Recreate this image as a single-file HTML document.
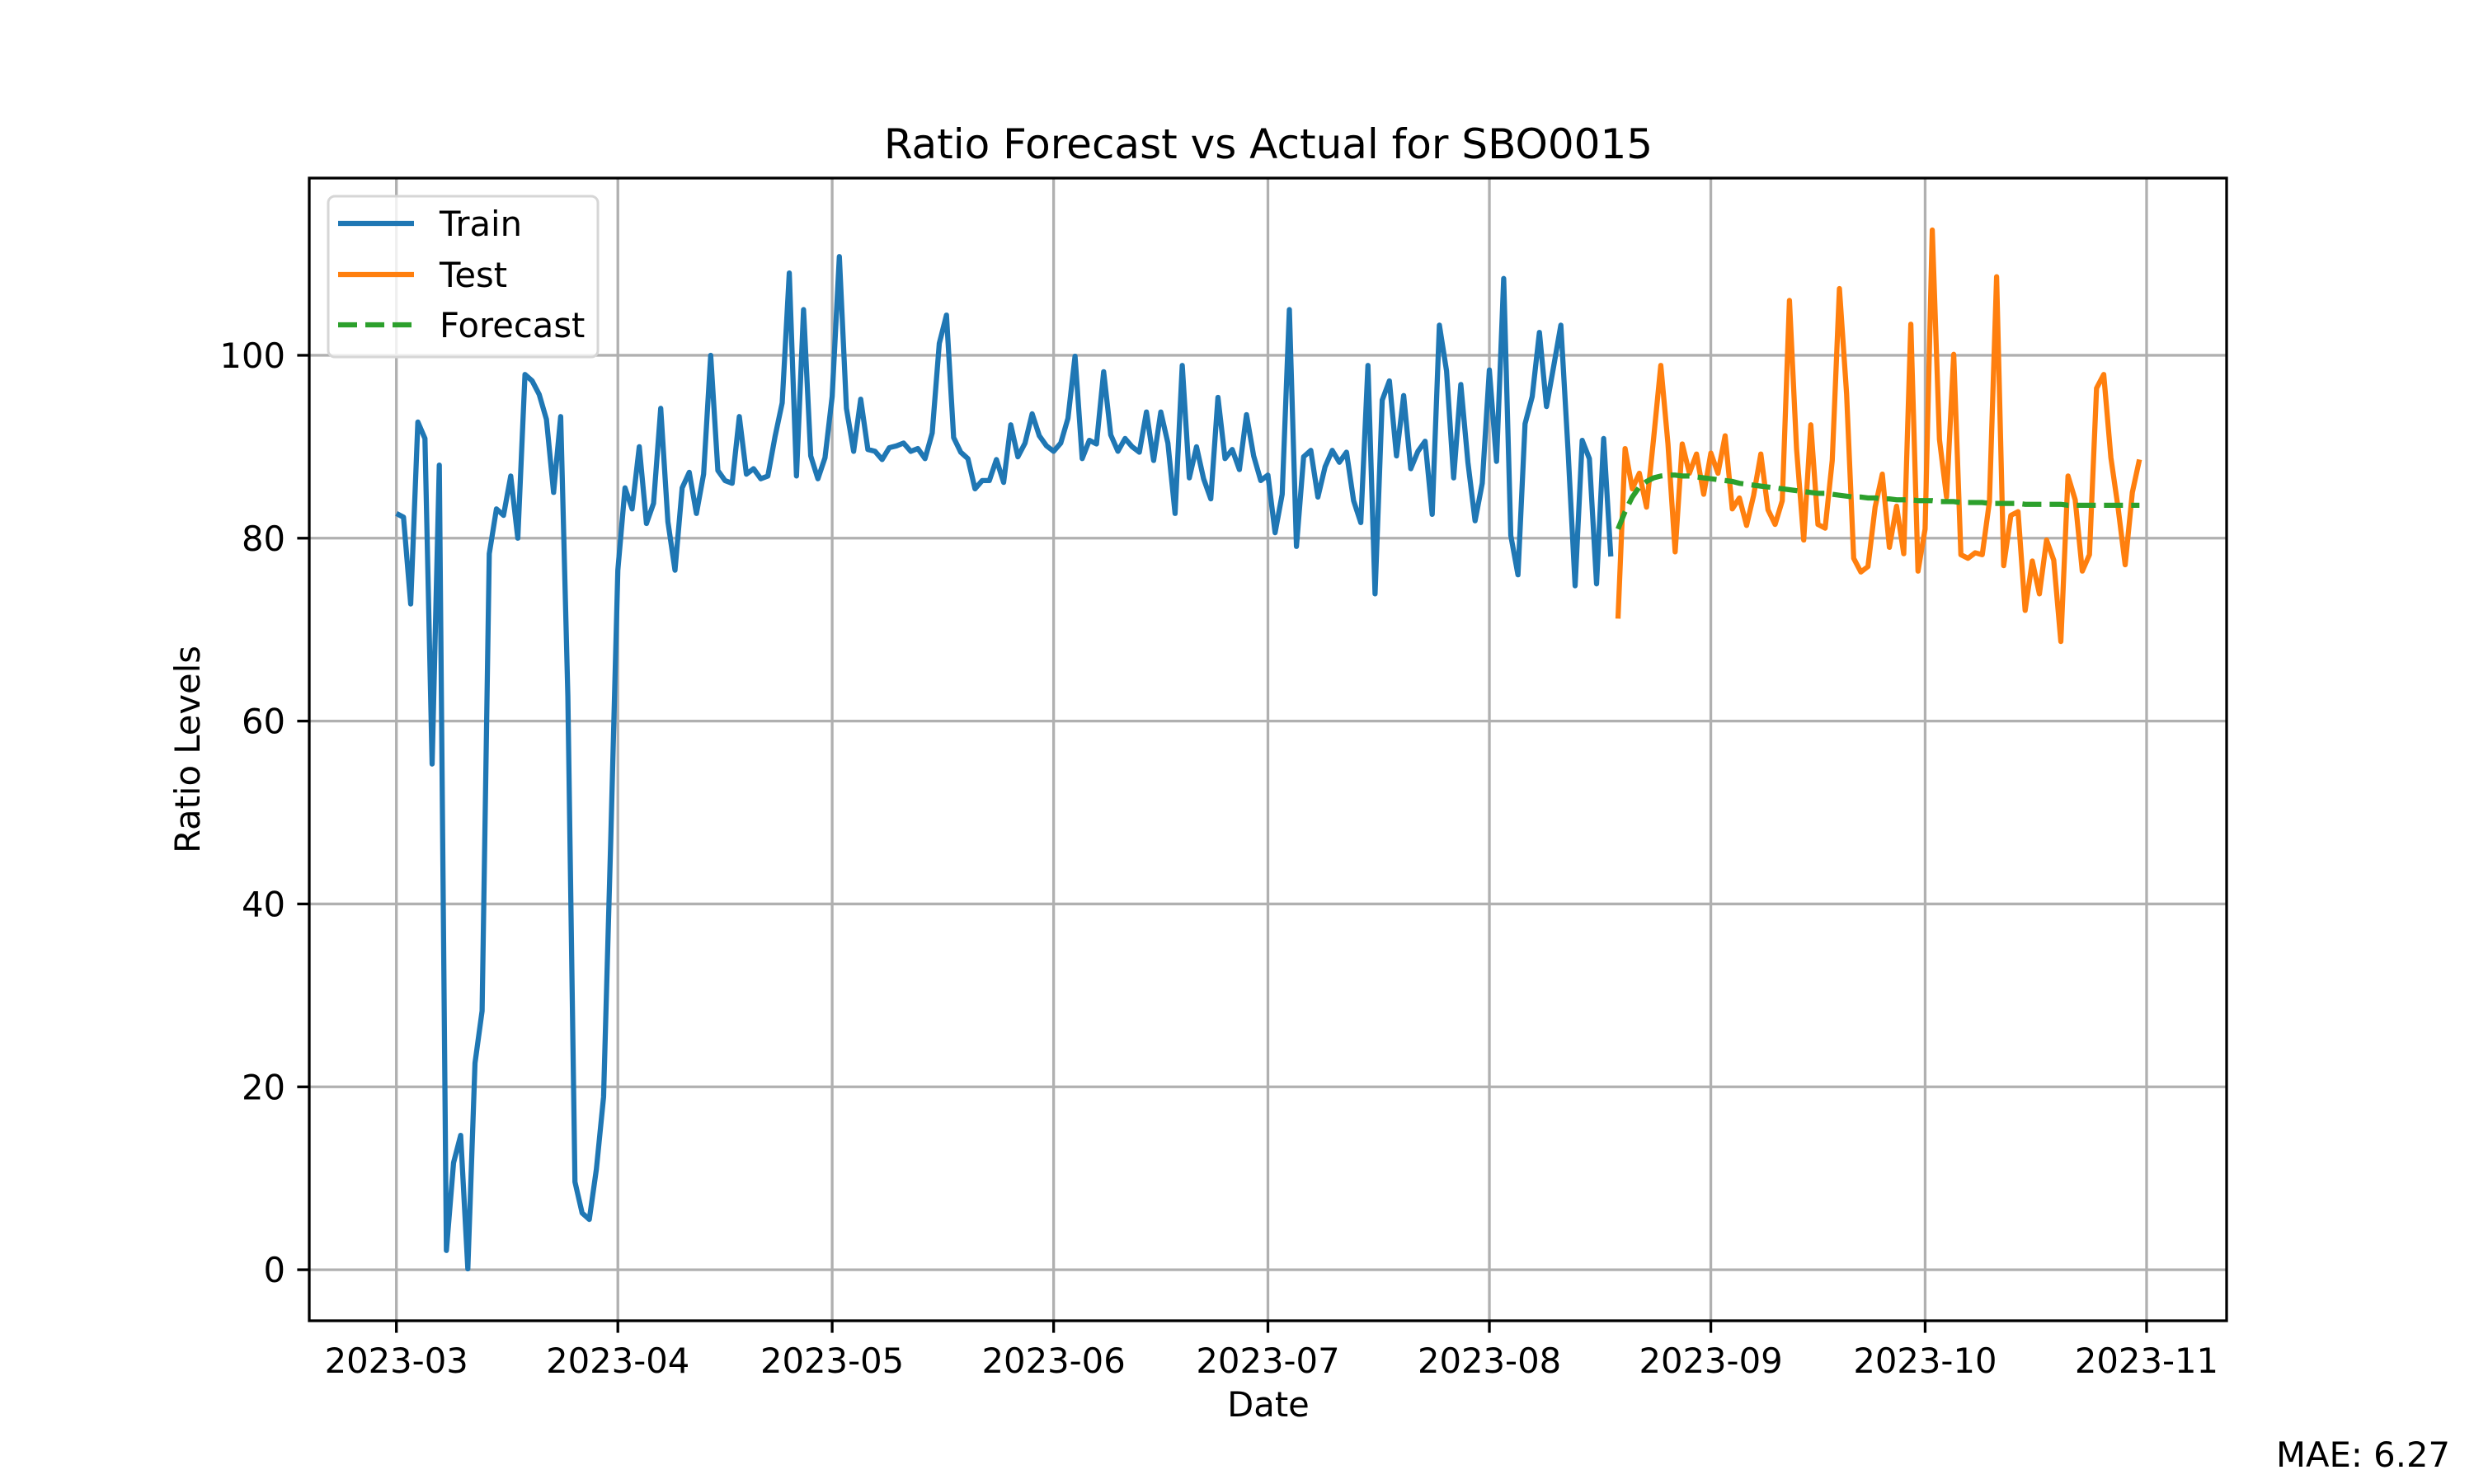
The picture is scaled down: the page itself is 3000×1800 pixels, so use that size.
<!DOCTYPE html>
<html><head><meta charset="utf-8"><style>
html,body{margin:0;padding:0;background:#fff;}
svg{display:block;font-family:"DejaVu Sans","Liberation Sans",sans-serif;}
</style></head><body>
<svg id="chart" width="3000" height="1800" viewBox="0 0 3000 1800" xmlns="http://www.w3.org/2000/svg">
<rect width="3000" height="1800" fill="#fff"/>
<g id="grid"></g>
<g id="series"></g>
<g id="axes"></g>
<text x="1538" y="192" font-size="50" text-anchor="middle">Ratio Forecast vs Actual for SBO0015</text>
<text x="1538" y="1718" font-size="41.7" text-anchor="middle">Date</text>
<text x="242" y="909" font-size="41.7" text-anchor="middle" transform="rotate(-90 242 909)">Ratio Levels</text>
<text x="2971" y="1779" font-size="41.7" text-anchor="end">MAE: 6.27</text>
<g>
<rect x="398" y="238" width="327" height="195" rx="8" fill="#fff" fill-opacity="0.8" stroke="#d6d6d6" stroke-width="3"/>
<line x1="410" y1="271" x2="502" y2="271" stroke="#1f77b4" stroke-width="6.25"/>
<text x="533" y="286" font-size="41.7">Train</text>
<line x1="410" y1="333" x2="502" y2="333" stroke="#ff7f0e" stroke-width="6.25"/>
<text x="533" y="348" font-size="41.7">Test</text>
<line x1="410" y1="394" x2="502" y2="394" stroke="#2ca02c" stroke-width="6.25" stroke-dasharray="23,10"/>
<text x="533" y="409" font-size="41.7">Forecast</text>
</g>
</svg>
<script>
const trainValues = [82.7,82.3,72.8,92.7,90.9,55.3,88,2.1,11.7,14.7,0.1,22.6,28.3,78.3,83.2,82.5,86.8,80,97.9,97.2,95.7,93,85,93.3,62.7,9.6,6.2,5.5,11,18.9,47,
76.5,85.5,83.2,90,81.6,83.8,94.2,81.8,76.5,85.5,87.2,82.7,87,100,87.4,86.3,86,93.3,87,87.6,86.5,86.8,91.1,94.8,109,86.8,105,89,86.5,88.8,
95.5,110.8,94.2,89.5,95.2,89.7,89.5,88.6,89.9,90.1,90.4,89.5,89.8,88.7,91.5,101.3,104.4,91,89.4,88.7,85.4,86.3,86.3,88.6,86.1,92.4,88.9,90.4,93.6,91.2,90.1,
89.5,90.4,93.1,99.9,88.7,90.7,90.3,98.2,91.3,89.5,90.9,90,89.4,93.8,88.5,93.8,90.4,82.7,98.9,86.6,90,86.5,84.3,95.4,88.7,89.7,87.5,93.5,89,86.3,
86.9,80.6,84.8,105,79.1,88.9,89.6,84.5,87.8,89.6,88.3,89.4,84.1,81.7,98.9,73.9,95.1,97.2,89,95.6,87.6,89.5,90.6,82.6,103.3,98.3,86.6,96.8,88.3,81.9,86,
98.4,88.4,108.4,80.3,76,92.5,95.5,102.5,94.4,98.8,103.3,89.8,74.8,90.7,88.7,75,90.9,78];
const testValues = [71.2,89.8,85.4,87.1,83.4,91,98.9,90.3,78.5,90.3,87.1,89.2,84.8,
89.3,87.1,91.2,83.2,84.4,81.4,84.7,89.2,83.1,81.5,84.1,106,89.8,79.8,92.4,81.5,81.1,88.5,107.3,95.8,77.8,76.3,76.9,83.4,87,79,83.5,78.3,103.4,76.4,
81,113.7,90.8,84.5,100.1,78.2,77.8,78.4,78.2,84,108.6,77,82.5,82.9,72.1,77.5,73.9,79.8,77.6,68.7,86.8,84.2,76.4,78.2,96.4,97.9,88.8,83.4,77.1,85,88.6];
const forecastValues = [81.0,82.9,84.5,85.6,86.2,86.6,86.8,86.9,86.9,86.8,86.8,86.7,86.6,
86.5,86.4,86.3,86.2,86.0,85.9,85.8,85.7,85.6,85.5,85.4,85.3,85.2,85.1,85.0,84.9,84.9,84.8,84.7,84.6,84.5,84.5,84.4,84.4,84.3,84.3,84.2,84.2,84.2,84.1,
84.1,84.1,84.0,84.0,84.0,83.9,83.9,83.9,83.9,83.8,83.8,83.8,83.8,83.8,83.7,83.7,83.7,83.7,83.7,83.7,83.6,83.6,83.6,83.6,83.6,83.6,83.6,83.6,83.6,83.6,83.6];
const xTickLabels = ["2023-03","2023-04","2023-05","2023-06","2023-07","2023-08","2023-09","2023-10","2023-11"];
const xTickDays = [0,31,61,92,122,153,184,214,245];
const yTickValues = [0,20,40,60,80,100];

const NS="http://www.w3.org/2000/svg";
const L=375,R=2700,T=216,B=1602;
const nDays=trainValues.length+testValues.length;
const xMin=-0.05*(nDays-1), xMax=(nDays-1)*1.05;
const all=trainValues.concat(testValues,forecastValues);
const vMin=Math.min(...all), vMax=Math.max(...all), pad=(vMax-vMin)*0.05;
const yMin=vMin-pad, yMax=vMax+pad;
const xs=d=>L+(d-xMin)/(xMax-xMin)*(R-L);
const ys=v=>B-(v-yMin)/(yMax-yMin)*(B-T);
function mk(tag,attrs,parent){const e=document.createElementNS(NS,tag);for(const k in attrs)e.setAttribute(k,attrs[k]);parent.appendChild(e);return e;}
const grid=document.getElementById('grid'),axes=document.getElementById('axes'),series=document.getElementById('series');
xTickDays.forEach((d,i)=>{
  const x=xs(d);
  const g=mk('line',{x1:x,x2:x,y1:T,y2:B,stroke:'#b0b0b0','stroke-width':3.3},grid);
  
  
  mk('line',{x1:x,x2:x,y1:B,y2:B+14.6,stroke:'#000','stroke-width':3.3},axes);
  const t=mk('text',{x:x,y:B+63,'font-size':41.7,'text-anchor':'middle'},axes);
  t.textContent=xTickLabels[i];
  
  
});
yTickValues.forEach(v=>{
  const y=ys(v);
  const g=mk('line',{x1:L,x2:R,y1:y,y2:y,stroke:'#b0b0b0','stroke-width':3.3},grid);
  
  
  mk('line',{x1:L-14.6,x2:L,y1:y,y2:y,stroke:'#000','stroke-width':3.3},axes);
  const t=mk('text',{x:L-29,y:y+15,'font-size':41.7,'text-anchor':'end'},axes);
  t.textContent=String(v);
  
  
});
const frame=mk('rect',{x:L,y:T,width:R-L,height:B-T,fill:'none',stroke:'#000','stroke-width':3.3},axes);


function pts(vals,off){return vals.map((v,i)=>xs(i+off).toFixed(1)+','+ys(v).toFixed(1)).join(' ');}
const off=trainValues.length;
const p1=mk('polyline',{points:pts(trainValues,0),fill:'none',stroke:'#1f77b4','stroke-width':6.25,'stroke-linejoin':'round'},series);


const p2=mk('polyline',{points:pts(testValues,off),fill:'none',stroke:'#ff7f0e','stroke-width':6.25,'stroke-linejoin':'round'},series);


const p3=mk('polyline',{points:pts(forecastValues,off),fill:'none',stroke:'#2ca02c','stroke-width':6.25,'stroke-dasharray':'23,10'},series);


</script>
</body></html>
